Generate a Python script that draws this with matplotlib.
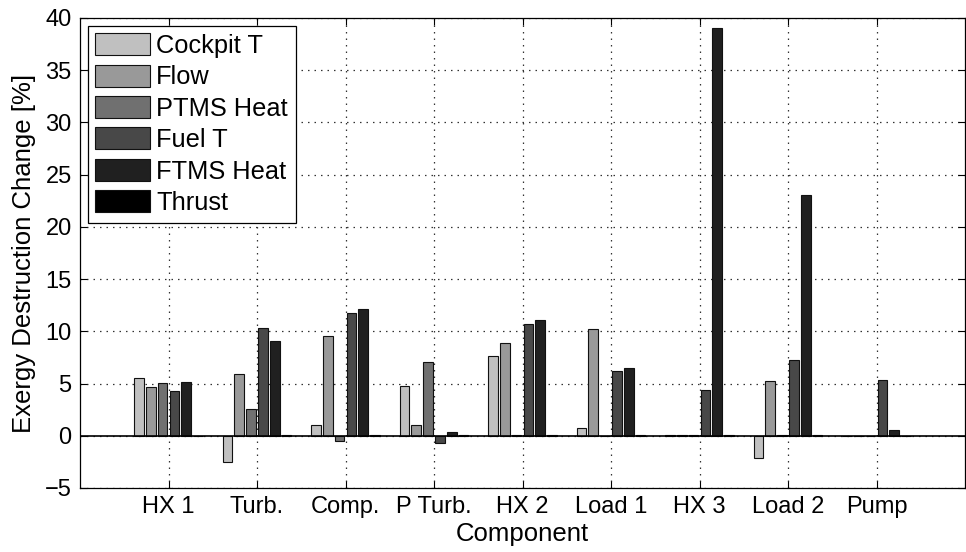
import matplotlib
matplotlib.use("Agg")
import matplotlib.pyplot as plt
import numpy as np

plt.rcParams['font.family'] = ['Liberation Sans', 'DejaVu Sans']

# Components along the x axis
categories = ['HX 1', 'Turb.', 'Comp.', 'P Turb.', 'HX 2', 'Load 1', 'HX 3', 'Load 2', 'Pump']

# Exergy destruction change [%] per perturbed parameter
series_names = ['Cockpit T', 'Flow', 'PTMS Heat', 'Fuel T', 'FTMS Heat', 'Thrust']
cockpit_t = [5.52, -2.53, 1.05, 4.76, 7.60, 0.70, 0.10, -2.14, 0.0]
flow = [4.63, 5.90, 9.60, 0.99, 8.88, 10.22, 0.10, 5.20, 0.0]
ptms_heat = [5.01, 2.59, -0.51, 7.06, 0.05, 0.0, 0.10, 0.05, 0.0]
fuel_t = [4.24, 10.30, 11.78, -0.67, 10.66, 6.20, 4.41, 7.28, 5.36]
ftms_heat = [5.13, 9.03, 12.16, 0.32, 11.11, 6.45, 39.0, 23.08, 0.57]
thrust = [0.0, 0.05, 0.05, 0.12, 0.05, 0.03, 0.10, 0.05, 0.0]

series = [cockpit_t, flow, ptms_heat, fuel_t, ftms_heat, thrust]
colors = ['#c0c0c0', '#999999', '#707070', '#484848', '#202020', '#000000']

fig = plt.figure(figsize=(9.66, 5.52), dpi=100)
ax = fig.add_axes([80 / 966, (552 - 488) / 552, (965 - 80) / 966, (488 - 18) / 552])

x = np.arange(1, len(categories) + 1)
n = len(series)
slot = 0.8 / n
width = 0.11
for i, (vals, name, c) in enumerate(zip(series, series_names, colors)):
    offs = (i - (n - 1) / 2) * slot
    ax.bar(x + offs, vals, width=width, color=c, edgecolor='#111111',
           linewidth=0.8, label=name, zorder=3)

ax.axhline(0, color='black', linewidth=1.2, zorder=4)

ax.set_xlim(0, 10)
ax.set_ylim(-5, 40)
ax.set_xticks(x)
ax.set_xticklabels(categories)
ax.set_yticks(np.arange(-5, 41, 5))

ax.grid(True, color='#333333', linestyle=(0, (1.2, 4)), linewidth=0.9, zorder=0)
ax.tick_params(direction='in', length=5, width=0.8, top=True, right=True,
               labelsize=17, pad=6)
for s in ax.spines.values():
    s.set_linewidth(0.9)

ax.set_xlabel('Component', fontsize=18.5, labelpad=3)
ax.set_ylabel('Exergy Destruction Change [%]', fontsize=18.5, labelpad=6)

leg = ax.legend(loc='upper left', fontsize=18.3, fancybox=False, framealpha=1,
                edgecolor='black', handlelength=2.15, handleheight=0.96,
                labelspacing=0.26, handletextpad=0.25, borderpad=0.3,
                borderaxespad=0.3)
leg.get_frame().set_linewidth(0.9)

fig.savefig('out.png', dpi=100)
